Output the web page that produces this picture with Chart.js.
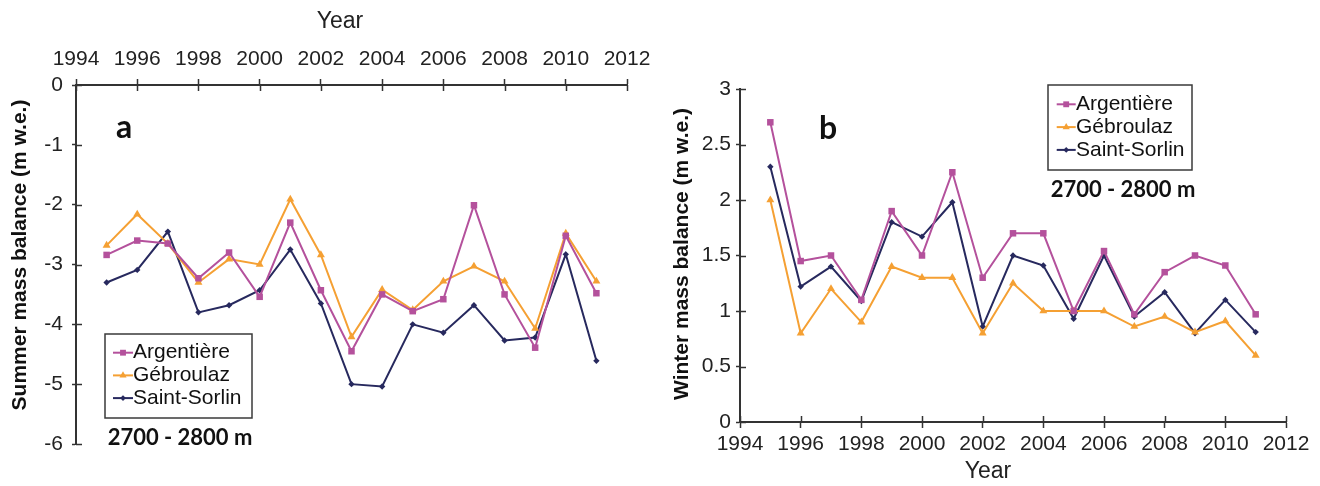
<!DOCTYPE html>
<html>
<head>
<meta charset="utf-8">
<script src="https://cdn.jsdelivr.net/npm/chart.js@4"></script>
<style>
  html, body { margin: 0; padding: 0; background: #fff; }
  #wrap { position: relative; width: 1320px; height: 486px; }
  .panel { position: absolute; top: 0; width: 660px; height: 486px; }
</style>
</head>
<body>
<div id="wrap">
  <div class="panel" style="left:0"><canvas id="summer" width="660" height="486"></canvas></div>
  <div class="panel" style="left:660px"><canvas id="winter" width="660" height="486"></canvas></div>
</div>
<script>
// Mass balance at 2700 - 2800 m, three glaciers
const years = [1995, 1996, 1997, 1998, 1999, 2000, 2001, 2002, 2003, 2004, 2005, 2006, 2007, 2008, 2009, 2010, 2011];

const glaciers = ['Argentière', 'Gébroulaz', 'Saint-Sorlin'];

const summerArgentiere = [-2.84, -2.60, -2.65, -3.23, -2.80, -3.54, -2.30, -3.43, -4.45, -3.50, -3.78, -3.58, -2.01, -3.50, -4.39, -2.52, -3.48];
const summerGebroulaz = [-2.68, -2.16, -2.65, -3.30, -2.91, -3.00, -1.91, -2.84, -4.21, -3.42, -3.76, -3.28, -3.03, -3.28, -4.07, -2.48, -3.28];
const summerSaintSorlin = [-3.30, -3.09, -2.45, -3.80, -3.68, -3.43, -2.75, -3.65, -5.00, -5.04, -4.00, -4.14, -3.68, -4.27, -4.22, -2.83, -4.61];

const winterArgentiere = [2.70, 1.45, 1.50, 1.10, 1.90, 1.50, 2.25, 1.30, 1.70, 1.70, 1.00, 1.54, 0.97, 1.35, 1.50, 1.41, 0.97];
const winterGebroulaz = [2.00, 0.80, 1.20, 0.90, 1.40, 1.30, 1.30, 0.80, 1.25, 1.00, 1.00, 1.00, 0.86, 0.95, 0.81, 0.91, 0.60];
const winterSaintSorlin = [2.30, 1.22, 1.40, 1.09, 1.80, 1.67, 1.98, 0.86, 1.50, 1.41, 0.93, 1.50, 0.95, 1.17, 0.80, 1.10, 0.81];

const PINK = '#b4519c';
const ORANGE = '#f5a033';
const NAVY = '#27295e';
const AXIS = '#333333';
const SANS = '"Liberation Sans", Arial, sans-serif';
const CALIBRI = 'Lato, "Liberation Sans", sans-serif';

function toPoints(values) {
  return values.map((v, i) => ({ x: years[i], y: v }));
}

function makeDatasets(a, g, s) {
  return [
    { label: glaciers[0], data: toPoints(a), borderColor: PINK, backgroundColor: PINK, pointStyle: 'rect', pointRadius: 4.6 },
    { label: glaciers[1], data: toPoints(g), borderColor: ORANGE, backgroundColor: ORANGE, pointStyle: 'triangle', pointRadius: 4.6 },
    { label: glaciers[2], data: toPoints(s), borderColor: NAVY, backgroundColor: NAVY, pointStyle: 'rectRot', pointRadius: 3.2 }
  ].map(d => Object.assign(d, { borderWidth: 2, tension: 0, pointBorderWidth: 0, fill: false }));
}

// small marker shapes for the boxed legend
function drawMarker(ctx, style, x, y, r, color) {
  ctx.fillStyle = color;
  ctx.beginPath();
  if (style === 'rect') {
    const s = r * Math.SQRT1_2;
    ctx.rect(x - s, y - s, 2 * s, 2 * s);
  } else if (style === 'triangle') {
    ctx.moveTo(x, y - r);
    ctx.lineTo(x + r * 0.866, y + r * 0.5);
    ctx.lineTo(x - r * 0.866, y + r * 0.5);
    ctx.closePath();
  } else {
    ctx.moveTo(x, y - r);
    ctx.lineTo(x + r, y);
    ctx.lineTo(x, y + r);
    ctx.lineTo(x - r, y);
    ctx.closePath();
  }
  ctx.fill();
}

// tick marks that also reach into the plot area
const crossTicks = {
  id: 'crossTicks',
  afterDraw(chart, args, opts) {
    const ctx = chart.ctx;
    const area = chart.chartArea;
    ctx.save();
    ctx.strokeStyle = AXIS;
    ctx.lineWidth = 1.5;
    Object.values(chart.scales).forEach(scale => {
      scale.ticks.forEach((t, i) => {
        const p = Math.round(scale.getPixelForTick(i)) + 0.5;
        ctx.beginPath();
        if (scale.isHorizontal()) {
          const y0 = scale.position === 'top' ? area.top : area.bottom;
          const dir = scale.position === 'top' ? 1 : -1;
          ctx.moveTo(p, y0);
          ctx.lineTo(p, y0 + dir * opts.inner);
        } else {
          ctx.moveTo(area.left, p);
          ctx.lineTo(area.left + opts.inner, p);
        }
        ctx.stroke();
      });
    });
    ctx.restore();
  }
};

// free text: panel letters, altitude band, axis titles
const notes = {
  id: 'notes',
  afterDraw(chart, args, opts) {
    const ctx = chart.ctx;
    (opts.items || []).forEach(it => {
      ctx.save();
      ctx.font = it.font;
      ctx.fillStyle = it.color || '#111';
      ctx.textAlign = 'center';
      ctx.textBaseline = 'middle';
      ctx.translate(it.x, it.y);
      if (it.rotate) ctx.rotate(it.rotate);
      ctx.fillText(it.text, 0, 0);
      ctx.restore();
    });
  }
};

// legend in a frame inside the plot
const boxLegend = {
  id: 'boxLegend',
  afterDraw(chart, args, o) {
    const ctx = chart.ctx;
    ctx.save();
    ctx.strokeStyle = '#3a3a3a';
    ctx.lineWidth = 1.5;
    ctx.strokeRect(o.x, o.y, o.w, o.h);
    ctx.font = o.font;
    ctx.textAlign = 'left';
    ctx.textBaseline = 'middle';
    chart.data.datasets.forEach((ds, i) => {
      const cy = o.y + o.first + i * o.step;
      ctx.strokeStyle = ds.borderColor;
      ctx.lineWidth = 2;
      ctx.beginPath();
      ctx.moveTo(o.x + o.symX, cy);
      ctx.lineTo(o.x + o.symX + o.symW, cy);
      ctx.stroke();
      drawMarker(ctx, ds.pointStyle, o.x + o.symX + o.symW / 2, cy, ds.pointRadius * 0.9, ds.backgroundColor);
      ctx.fillStyle = '#111';
      ctx.fillText(ds.label, o.x + o.textX, cy);
    });
    ctx.restore();
  }
};

function plainNumber(v) { return String(v); }

function axisStyle(outer, pad) {
  return {
    grid: { display: true, drawOnChartArea: false, drawTicks: true, tickLength: outer, color: AXIS, tickWidth: 1.5 },
    border: { display: true, color: AXIS, width: 2 },
    ticks: { color: '#222', font: { family: SANS, size: 21 }, padding: pad, autoSkip: false, maxRotation: 0, callback: plainNumber }
  };
}

// a: summer balance, year axis on top
const summerX = axisStyle(6, 7);
Object.assign(summerX, { type: 'linear', position: 'top', min: 1994, max: 2012, afterFit: s => { s.height = 85; } });
summerX.ticks.stepSize = 2;

const summerY = axisStyle(4, 9);
Object.assign(summerY, { type: 'linear', position: 'left', min: -6, max: 0, afterFit: s => { s.width = 76; } });
summerY.ticks.stepSize = 1;

new Chart(document.getElementById('summer'), {
  type: 'line',
  data: { datasets: makeDatasets(summerArgentiere, summerGebroulaz, summerSaintSorlin) },
  options: {
    responsive: false,
    animation: false,
    layout: { padding: { top: 0, right: 33, bottom: 42, left: 0 } },
    scales: { x: summerX, y: summerY },
    plugins: {
      legend: { display: false },
      tooltip: { enabled: false },
      crossTicks: { inner: 6 },
      boxLegend: { x: 105, y: 334, w: 147, h: 84, first: 18.7, step: 22.7, symX: 8, symW: 20, textX: 28, font: '21px ' + SANS },
      notes: {
        items: [
          { text: 'Year', x: 340, y: 22, font: '23px ' + SANS, color: '#222' },
          { text: 'Summer mass balance (m w.e.)', x: 20, y: 255, rotate: -Math.PI / 2, font: 'bold 21px ' + SANS },
          { text: 'a', x: 124, y: 128, font: 'bold 32px ' + CALIBRI },
          { text: '2700 - 2800 m', x: 180, y: 438, font: 'bold 22px ' + CALIBRI }
        ]
      }
    }
  },
  plugins: [crossTicks, boxLegend, notes]
});

// b: winter balance, year axis at the bottom
const winterX = axisStyle(6, 4);
Object.assign(winterX, { type: 'linear', position: 'bottom', min: 1994, max: 2012, afterFit: s => { s.height = 64; } });
winterX.ticks.stepSize = 2;

const winterY = axisStyle(4, 5);
Object.assign(winterY, { type: 'linear', position: 'left', min: 0, max: 3, afterFit: s => { s.width = 80; } });
winterY.ticks.stepSize = 0.5;

new Chart(document.getElementById('winter'), {
  type: 'line',
  data: { datasets: makeDatasets(winterArgentiere, winterGebroulaz, winterSaintSorlin) },
  options: {
    responsive: false,
    animation: false,
    layout: { padding: { top: 89, right: 34, bottom: 0, left: 0 } },
    scales: { x: winterX, y: winterY },
    plugins: {
      legend: { display: false },
      tooltip: { enabled: false },
      crossTicks: { inner: 6 },
      boxLegend: { x: 388, y: 85, w: 144, h: 85, first: 19.3, step: 22.8, symX: 8.7, symW: 19, textX: 28, font: '21px ' + SANS },
      notes: {
        items: [
          { text: 'Year', x: 328, y: 472, font: '23px ' + SANS, color: '#222' },
          { text: 'Winter mass balance (m w.e.)', x: 22, y: 254, rotate: -Math.PI / 2, font: 'bold 21px ' + SANS },
          { text: 'b', x: 168, y: 129, font: 'bold 32px ' + CALIBRI },
          { text: '2700 - 2800 m', x: 463, y: 190, font: 'bold 22px ' + CALIBRI }
        ]
      }
    }
  },
  plugins: [crossTicks, boxLegend, notes]
});
</script>
</body>
</html>
